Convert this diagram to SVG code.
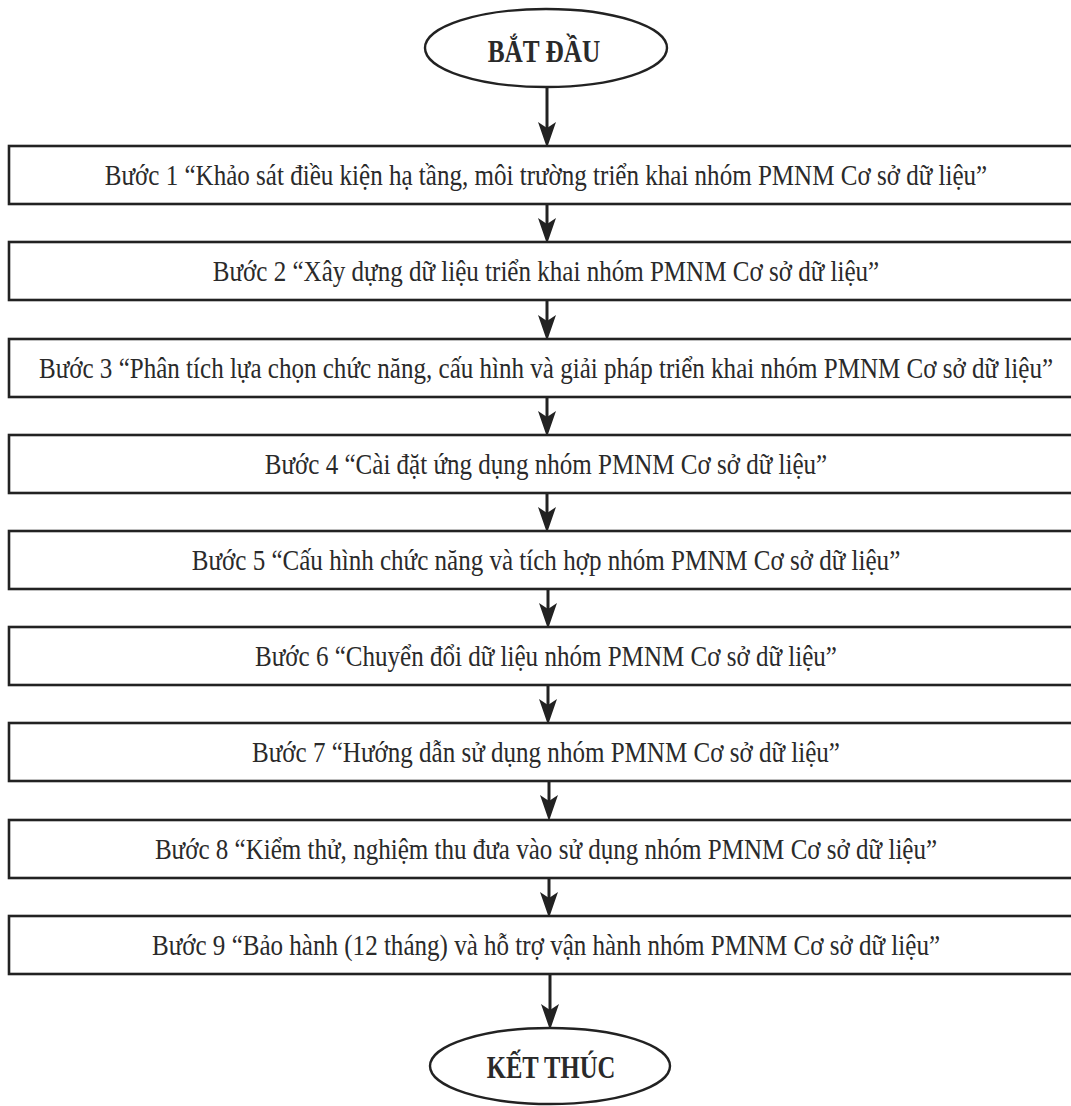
<svg xmlns="http://www.w3.org/2000/svg" width="1071" height="1106" viewBox="0 0 1071 1106">
  <defs>
    <style>
      .box { fill: #ffffff; stroke: #222222; stroke-width: 2.6; }
      .term { fill: #ffffff; stroke: #222222; stroke-width: 2.4; }
      .step { font-family: "Liberation Serif", "Times New Roman", serif; font-size: 30px; fill: #2a2a2a; text-anchor: middle; }
      .termtext { font-family: "Liberation Serif", "Times New Roman", serif; font-size: 32px; font-weight: bold; fill: #2a2a2a; text-anchor: middle; }
      .conn { stroke: #222222; stroke-width: 3; fill: none; marker-end: url(#arrow); }
    </style>
    <marker id="arrow" markerUnits="userSpaceOnUse" markerWidth="26" markerHeight="20" viewBox="0 0 26 20" refX="12" refY="10" orient="auto">
      <path d="M0,1 L26,10 L0,19 L6,10 z" fill="#222222"/>
    </marker>
  </defs>
  <rect x="0" y="0" width="1071" height="1106" fill="#ffffff"/>

  <g id="connectors">
    <line class="conn" x1="547" y1="87" x2="547" y2="134"/>
    <line class="conn" x1="547" y1="204" x2="547" y2="230"/>
    <line class="conn" x1="547" y1="300" x2="547" y2="327"/>
    <line class="conn" x1="547" y1="397" x2="547" y2="423"/>
    <line class="conn" x1="547" y1="493" x2="547" y2="519"/>
    <line class="conn" x1="548" y1="589" x2="548" y2="615"/>
    <line class="conn" x1="548" y1="685" x2="548" y2="711"/>
    <line class="conn" x1="549" y1="781" x2="549" y2="807"/>
    <line class="conn" x1="549" y1="878" x2="549" y2="904"/>
    <line class="conn" x1="550" y1="974" x2="550" y2="1016"/>
  </g>

  <g id="start">
    <ellipse class="term" cx="546" cy="48" rx="121" ry="39"/>
    <text class="termtext" transform="translate(544 62) scale(0.79 1)" x="0" y="0">BẮT ĐẦU</text>
  </g>

  <g id="step1">
    <rect class="box" x="9" y="146" width="1080" height="58"/>
    <text class="step" transform="translate(546 185) scale(0.835 1)" x="0" y="0">Bước 1 “Khảo sát điều kiện hạ tầng, môi trường triển khai nhóm PMNM Cơ sở dữ liệu”</text>
  </g>
  <g id="step2">
    <rect class="box" x="9" y="242" width="1080" height="58"/>
    <text class="step" transform="translate(546 281) scale(0.835 1)" x="0" y="0">Bước 2 “Xây dựng dữ liệu triển khai nhóm PMNM Cơ sở dữ liệu”</text>
  </g>
  <g id="step3">
    <rect class="box" x="9" y="339" width="1080" height="58"/>
    <text class="step" transform="translate(546 378) scale(0.835 1)" x="0" y="0">Bước 3 “Phân tích lựa chọn chức năng, cấu hình và giải pháp triển khai nhóm PMNM Cơ sở dữ liệu”</text>
  </g>
  <g id="step4">
    <rect class="box" x="9" y="435" width="1080" height="58"/>
    <text class="step" transform="translate(546 474) scale(0.835 1)" x="0" y="0">Bước 4 “Cài đặt ứng dụng nhóm PMNM Cơ sở dữ liệu”</text>
  </g>
  <g id="step5">
    <rect class="box" x="9" y="531" width="1080" height="58"/>
    <text class="step" transform="translate(546 570) scale(0.835 1)" x="0" y="0">Bước 5 “Cấu hình chức năng và tích hợp nhóm PMNM Cơ sở dữ liệu”</text>
  </g>
  <g id="step6">
    <rect class="box" x="9" y="627" width="1080" height="58"/>
    <text class="step" transform="translate(546 666) scale(0.835 1)" x="0" y="0">Bước 6 “Chuyển đổi dữ liệu nhóm PMNM Cơ sở dữ liệu”</text>
  </g>
  <g id="step7">
    <rect class="box" x="9" y="723" width="1080" height="58"/>
    <text class="step" transform="translate(546 762) scale(0.835 1)" x="0" y="0">Bước 7 “Hướng dẫn sử dụng nhóm PMNM Cơ sở dữ liệu”</text>
  </g>
  <g id="step8">
    <rect class="box" x="9" y="820" width="1080" height="58"/>
    <text class="step" transform="translate(546 859) scale(0.835 1)" x="0" y="0">Bước 8 “Kiểm thử, nghiệm thu đưa vào sử dụng nhóm PMNM Cơ sở dữ liệu”</text>
  </g>
  <g id="step9">
    <rect class="box" x="9" y="916" width="1080" height="58"/>
    <text class="step" transform="translate(546 955) scale(0.835 1)" x="0" y="0">Bước 9 “Bảo hành (12 tháng) và hỗ trợ vận hành nhóm PMNM Cơ sở dữ liệu”</text>
  </g>

  <g id="end">
    <ellipse class="term" cx="550" cy="1066" rx="120" ry="38"/>
    <text class="termtext" transform="translate(551 1078) scale(0.77 1)" x="0" y="0">KẾT THÚC</text>
  </g>
</svg>
